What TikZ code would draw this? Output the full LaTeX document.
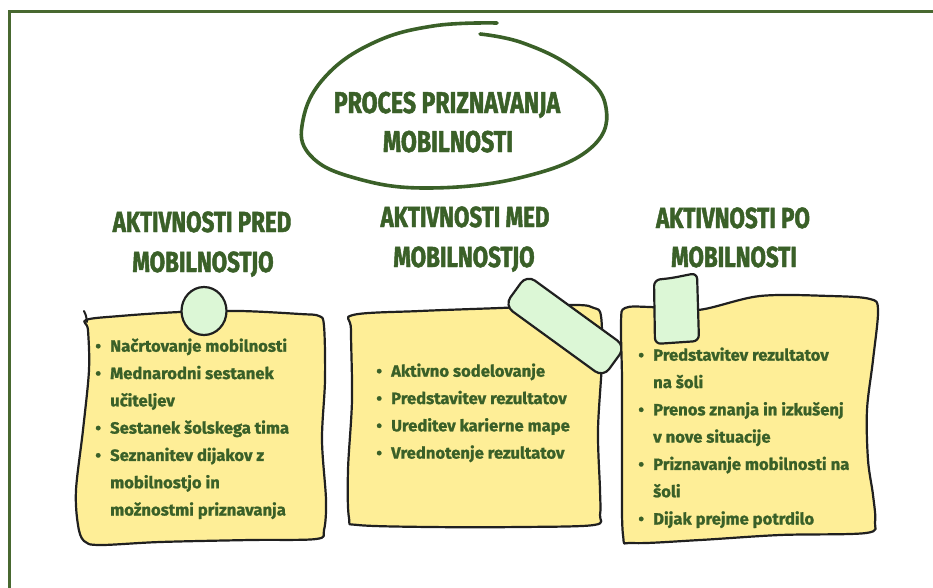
\documentclass[tikz,border=0pt]{standalone}
\usepackage{fontspec}
\setmainfont{Fira Sans}
\newfontfamily\headfont[FakeStretch=0.77, FakeBold=1.6]{Fira Sans}
\newfontfamily\bodyfont[FakeStretch=1.02, FakeBold=1.2]{Fira Sans}
\definecolor{dkgreen}{RGB}{58,96,40}
\definecolor{framegreen}{RGB}{72,104,48}
\definecolor{noteyellow}{RGB}{254,238,151}
\definecolor{tapegreen}{RGB}{220,247,214}
\definecolor{outline}{RGB}{32,32,32}
\tikzset{
  notebox/.style={draw=outline, line width=2.2pt, fill=noteyellow, line join=round},
  tapebox/.style={draw=outline, line width=2.2pt, fill=tapegreen, line join=round},
  headtext/.style={font=\headfont\bfseries\fontsize{29}{36}\selectfont, text=dkgreen, anchor=base, inner sep=0pt},
  bodytext/.style={font=\bodyfont\bfseries\fontsize{16.3}{27.3}\selectfont, text=dkgreen, anchor=north west, inner sep=0pt, align=left},
}
\newcommand{\bul}{\makebox[24pt]{\textbullet}}
\begin{document}
\begin{tikzpicture}[x=1pt,y=-1pt]
\useasboundingbox (0,0) rectangle (933,587);
% frame
\draw[framegreen, line width=3pt] (9,600) -- (9,11) -- (945,11);
% title spiral
\draw[dkgreen, line width=3.6pt, line cap=round] plot[smooth, tension=0.7] coordinates {(480,34) (523,43) (573,68) (605,103) (592,147) (523,177) (428,188) (355,178) (310,155) (303,120) (325,77) (373,43) (433,26) (497,23)};
\node[headtext, font=\headfont\bfseries\fontsize{30}{36}\selectfont] (t1) at (447,113) {PROCES PRIZNAVANJA};
\node[headtext, font=\headfont\bfseries\fontsize{30}{36}\selectfont] (t2) at (448,152) {MOBILNOSTI};
% headings
\node[headtext] (h1a) at (202,232) {AKTIVNOSTI PRED};
\node[headtext] (h1b) at (203,272) {MOBILNOSTJO};
\node[headtext] (h2a) at (465,227) {AKTIVNOSTI MED};
\node[headtext] (h2b) at (464,267) {MOBILNOSTJO};
\node[headtext] (h3a) at (733,228) {AKTIVNOSTI PO};
\node[headtext] (h3b) at (734,267) {MOBILNOSTI};
% left note
\draw[notebox] plot[smooth cycle, tension=0.55] coordinates {(86,320) (120,316) (180,312) (240,311) (300,314) (319,316) (324,326) (325,380) (322,440) (326,500) (324,530) (316,539) (250,540) (160,542) (100,545) (84,541) (78,525) (76,490) (83,430) (89,370) (88,330)};
\draw[outline, line width=2pt, line cap=round] (84,311) .. controls (86,315) .. (87,322);
\draw[tapebox] (204,311) circle[x radius=22.5pt, y radius=24pt];
\node[bodytext] (n1) at (86,332.4) {\begin{tabular}{@{}l@{}l@{}}
\bul & Načrtovanje mobilnosti\\
\bul & Mednarodni sestanek\\
 & učiteljev\\
\bul & Sestanek šolskega tima\\
\bul & Seznanitev dijakov z\\
 & mobilnostjo in\\
 & možnostmi priznavanja
\end{tabular}};
% middle note
\draw[notebox] plot[smooth cycle, tension=0.55] coordinates {(353,315) (420,311) (500,308) (575,305) (594,308) (601,316) (602,360) (598,430) (600,490) (600,515) (594,525) (520,527) (430,527) (358,525) (349,518) (348,470) (352,400) (351,330)};
\begin{scope}[shift={(565,326)}, rotate=-36]
\draw[tapebox, rounded corners=10pt] (-61,-19) rectangle (61,19);
\end{scope}
\node[bodytext] (n2) at (367,357.4) {\begin{tabular}{@{}l@{}l@{}}
\bul & Aktivno sodelovanje\\
\bul & Predstavitev rezultatov\\
\bul & Ureditev karierne mape\\
\bul & Vrednotenje rezultatov
\end{tabular}};
% right note
\draw[notebox] plot[smooth cycle, tension=0.55] coordinates {(625,308) (650,307) (698,310) (760,296) (830,296) (870,299) (878,310) (873,360) (867,410) (868,460) (873,495) (875,522) (866,533) (780,535) (700,540) (633,543) (623,535) (622,460) (622,380) (621,322)};
\draw[tapebox, rounded corners=6pt] (654,280) -- (672,278) -- (697,273) -- (699,341) -- (655,344) -- cycle;
\node[bodytext] (n3) at (629,341.4) {\begin{tabular}{@{}l@{}l@{}}
\bul & Predstavitev rezultatov\\
 & na šoli\\
\bul & Prenos znanja in izkušenj\\
 & v nove situacije\\
\bul & Priznavanje mobilnosti na\\
 & šoli\\
\bul & Dijak prejme potrdilo
\end{tabular}};
\end{tikzpicture}
\end{document}
